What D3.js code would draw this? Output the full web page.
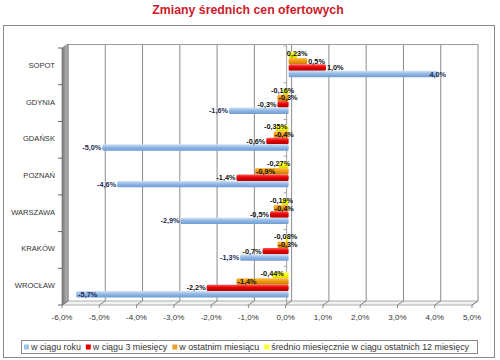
<!DOCTYPE html>
<html><head><meta charset="utf-8">
<script src="https://cdn.jsdelivr.net/npm/d3@7"></script>
<style>body{margin:0;background:#fff}svg{display:block;font-family:"Liberation Sans",Arial,sans-serif}</style>
</head><body><svg id="c" width="500" height="360"></svg>
<script>
const categories = ["SOPOT","GDYNIA","GDAŃSK","POZNAŃ","WARSZAWA","KRAKÓW","WROCŁAW"];
const seriesNames = ["w ciągu roku","w ciągu 3 miesięcy","w ostatnim miesiącu","średnio miesięcznie w ciągu ostatnich 12 miesięcy"];
const yearValues = [4.0,-1.6,-5.0,-4.6,-2.9,-1.3,-5.7];
const threeMonthValues = [1.0,-0.3,-0.6,-1.4,-0.5,-0.7,-2.2];
const lastMonthValues = [0.5,-0.3,-0.4,-0.9,-0.4,-0.3,-1.4];
const avgMonthlyValues = [0.23,-0.16,-0.35,-0.27,-0.19,-0.08,-0.44];
const xTicks = [-6,-5,-4,-3,-2,-1,0,1,2,3,4,5];

const seriesValues = [yearValues, threeMonthValues, lastMonthValues, avgMonthlyValues];
const colors = [
  ["#d2e3f6","#93b9e6","#6f9bd1"],
  ["#ff5a5a","#e60000","#b00000"],
  ["#ffc04a","#f09a10","#c47800"],
  ["#ffff9a","#ffff10","#d6d600"]
];
const legendColors = ["#9cc2ea","#e00000","#eba030","#ffff30"];
const labelColors = ["#1c2d55","#111","#111","#111"];

const loc = d3.formatLocale({decimal:",",thousands:" ",grouping:[3],currency:["",""],minus:"-"});
const fmt = [loc.format(".1f"),loc.format(".1f"),loc.format(".1f"),loc.format(".2f")];

const svg = d3.select("#c");
const dx = 6, dy = -4;
const frontTop = 48, frontBottom = 305;
const xF = d3.scaleLinear().domain([-6,5]).range([62,472]);
const xM = v => xF(v) + dx/2;
const yBand = d3.scaleBand().domain(categories).range([frontTop+dy/2, frontBottom+dy/2]).paddingInner(0.3).paddingOuter(0.15);
const order = [3,2,1,0];
const yInner = d3.scaleBand().domain(order).range([0, yBand.bandwidth()]);

const defs = svg.append("defs");
colors.forEach((c,i)=>{
  const g = defs.append("linearGradient").attr("id","g"+i).attr("x1",0).attr("y1",0).attr("x2",0).attr("y2",1);
  g.append("stop").attr("offset","0%").attr("stop-color",c[0]);
  g.append("stop").attr("offset","45%").attr("stop-color",c[1]);
  g.append("stop").attr("offset","100%").attr("stop-color",c[2]);
});
const wg = defs.append("linearGradient").attr("id","wall").attr("x1",0).attr("y1",0).attr("x2",1).attr("y2",0);
wg.append("stop").attr("offset","0%").attr("stop-color","#7a7a7a");
wg.append("stop").attr("offset","100%").attr("stop-color","#b8b8b8");

svg.append("rect").attr("x",3.5).attr("y",25.5).attr("width",491).attr("height",332)
  .attr("fill","none").attr("stroke","#8a8a8a");

svg.append("text").attr("x",248).attr("y",13.5).attr("text-anchor","middle")
  .attr("font-size",12.3).attr("font-weight","bold").attr("fill","#cc1a2c")
  .text("Zmiany średnich cen ofertowych");

const backTop = frontTop + dy, backBottom = frontBottom + dy;
svg.append("path").attr("d",`M${xF(-6)},${frontBottom}L${xF(-6)+dx},${backBottom}L${xF(5)+dx},${backBottom}L${xF(5)},${frontBottom}Z`)
  .attr("fill","#f2f2f2").attr("stroke","#9a9a9a").attr("stroke-width",0.8);
svg.append("g").selectAll("line").data(xTicks).join("line")
  .attr("x1",d=>xF(d)+dx).attr("x2",d=>xF(d)+dx).attr("y1",backTop).attr("y2",backBottom)
  .attr("stroke","#8c8c8c").attr("stroke-width",1);
svg.append("line").attr("x1",xF(-6)+dx).attr("x2",xF(5)+dx).attr("y1",backTop+0.5).attr("y2",backTop+0.5)
  .attr("stroke","#9a9a9a");
svg.append("path").attr("d",`M${xF(-6)},${frontTop}L${xF(-6)+dx},${backTop}L${xF(-6)+dx},${backBottom}L${xF(-6)},${frontBottom}Z`)
  .attr("fill","url(#wall)").attr("stroke","#6a6a6a").attr("stroke-width",0.6);
svg.append("g").selectAll("path").data(xTicks).join("path")
  .attr("d",d=>`M${xF(d)+dx},${backBottom}L${xF(d)},${frontBottom}L${xF(d)},${frontBottom+3}`)
  .attr("fill","none").attr("stroke","#7a7a7a").attr("stroke-width",0.9);
svg.append("g").selectAll("text").data(xTicks).join("text")
  .attr("x",d=>xF(d)).attr("y",320).attr("text-anchor","middle")
  .attr("font-size",8).attr("fill","#333").text(d=>loc.format(".1f")(d)+"%");

const bounds = d3.range(categories.length+1).map(i=>frontTop + i*(frontBottom-frontTop)/categories.length);
svg.append("g").selectAll("line").data(bounds).join("line")
  .attr("x1",xF(-6)-4).attr("x2",xF(-6)).attr("y1",d=>d).attr("y2",d=>d)
  .attr("stroke","#666");
svg.append("g").selectAll("text").data(categories).join("text")
  .attr("x",55).attr("y",d=>yBand(d)+yBand.bandwidth()/2+3.5).attr("text-anchor","end")
  .attr("font-size",7.6).attr("fill","#333").text(d=>d);

svg.append("line").attr("x1",xF(0)+1).attr("x2",xF(0)+1).attr("y1",frontTop-2).attr("y2",frontBottom)
  .attr("stroke","#8a8a8a").attr("stroke-width",0.8);
svg.append("g").selectAll("line").data(bounds.slice(0,-1)).join("line")
  .attr("x1",xF(0)-2).attr("x2",xF(0)+1).attr("y1",d=>d-2).attr("y2",d=>d-2)
  .attr("stroke","#8a8a8a").attr("stroke-width",0.8);

const barData = [];
categories.forEach((c,ci)=>order.forEach(s=>barData.push({c,s,v:seriesValues[s][ci]})));
svg.append("g").selectAll("rect").data(barData).join("rect")
  .attr("x",d=>Math.min(xM(0),xM(d.v)))
  .attr("width",d=>Math.abs(xM(d.v)-xM(0)))
  .attr("y",d=>yBand(d.c)+yInner(d.s))
  .attr("height",yInner.bandwidth())
  .attr("rx",1.5)
  .attr("fill",d=>`url(#g${d.s})`);

const lg = svg.append("g").attr("font-size",7.3).attr("font-weight","bold");
barData.forEach(d=>{
  const yc = yBand(d.c)+yInner(d.s)+yInner.bandwidth()/2+2.6;
  const t = lg.append("text").attr("fill",labelColors[d.s]).text(fmt[d.s](d.v)+"%");
  const w = t.node().getComputedTextLength();
  let x, anchor;
  if (d.s===3 || (d.s===0 && d.v>0)) { x = xM(d.v); anchor="middle"; }
  else if (d.v>=0) { x = xM(d.v)+1; anchor="start"; }
  else if (d.s===2) { x = xM(d.v)+1; anchor="start"; }
  else { x = xM(d.v)-1; anchor="end"; if (x-w < xF(-6)+dx) { x = xM(d.v)+2; anchor="start"; } }
  t.attr("x",x).attr("y",d.s===3?yc-1.5:yc).attr("text-anchor",anchor);
});

svg.append("rect").attr("x",21.5).attr("y",340.5).attr("width",456).attr("height",13)
  .attr("fill","#fff").attr("stroke","#8a8a8a");
let lx = 24;
seriesNames.forEach((n,i)=>{
  svg.append("rect").attr("x",lx).attr("y",344.5).attr("width",5).attr("height",5).attr("fill",legendColors[i]);
  const t = svg.append("text").attr("x",lx+7).attr("y",350.3).attr("font-size",8.9).attr("fill","#333").text(n);
  lx += 7 + t.node().getComputedTextLength() + 5;
});
</script></body></html>
